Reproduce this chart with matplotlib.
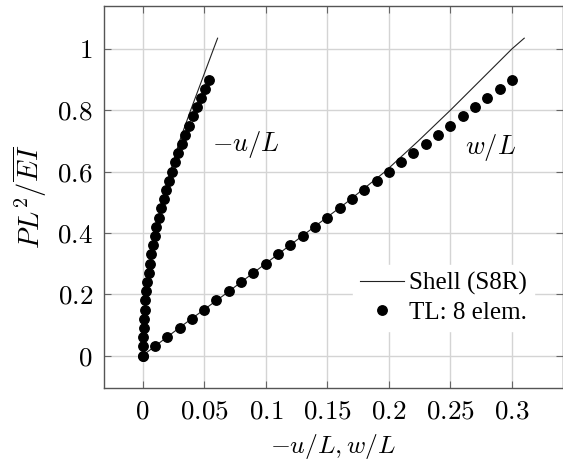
import numpy as np
import matplotlib
matplotlib.use("Agg")
from matplotlib import pyplot as plt

plt.rcParams["mathtext.fontset"] = "cm"
plt.rcParams["font.family"] = ["Liberation Serif", "DejaVu Serif"]

# TL: 8 elem. (pontos)
carga_tl = [0.0, 0.03, 0.06, 0.09, 0.12, 0.15, 0.18, 0.21, 0.24, 0.27, 0.30,
            0.33, 0.36, 0.39, 0.42, 0.45, 0.48, 0.51, 0.54, 0.57, 0.60,
            0.63, 0.66, 0.69, 0.72, 0.75, 0.78, 0.81, 0.84, 0.87, 0.90]
u_tl = [0.0, 0.0001, 0.0004, 0.0008, 0.0012, 0.0017, 0.0023, 0.0030, 0.0038,
        0.0049, 0.0059, 0.0070, 0.0082, 0.0097, 0.0112, 0.0131, 0.0147,
        0.0170, 0.0192, 0.0213, 0.0238, 0.0265, 0.0289, 0.0317, 0.0346,
        0.0373, 0.0406, 0.0438, 0.0471, 0.0506, 0.0540]
w_tl = [0.0, 0.01, 0.02, 0.03, 0.04, 0.05, 0.06, 0.07, 0.08, 0.09, 0.10,
        0.11, 0.12, 0.13, 0.14, 0.15, 0.16, 0.17, 0.18, 0.19, 0.20,
        0.21, 0.22, 0.23, 0.24, 0.25, 0.26, 0.27, 0.28, 0.29, 0.30]

# Shell (S8R) (linha)
carga_shell = [0.0, 0.1, 0.2, 0.3, 0.4, 0.5, 0.6, 0.7, 0.8, 0.9, 1.0, 1.035]
u_shell = [0.0, 0.0006, 0.0025, 0.0058, 0.0103, 0.0160, 0.0225, 0.0300,
           0.0390, 0.0483, 0.0576, 0.0609]
w_shell = [0.0, 0.033, 0.067, 0.100, 0.133, 0.166, 0.197, 0.224, 0.250,
           0.275, 0.300, 0.310]

xticks = [0, 0.05, 0.1, 0.15, 0.2, 0.25, 0.3]
xtick_labels = ["0", "0.05", "0.1", "0.15", "0.2", "0.25", "0.3"]
yticks = [0, 0.2, 0.4, 0.6, 0.8, 1.0]
ytick_labels = ["0", "0.2", "0.4", "0.6", "0.8", "1"]

fig = plt.figure(figsize=(5.63, 4.63), dpi=100)
ax = fig.add_axes([0.1847, 0.1613, 0.8153, 0.8264])

ax.plot(u_shell, carga_shell, color="#222222", lw=0.8, label="Shell (S8R)")
ax.plot(w_shell, carga_shell, color="#222222", lw=0.8)
ax.plot(u_tl, carga_tl, "o", color="black", ms=6.8, label="TL: 8 elem.")
ax.plot(w_tl, carga_tl, "o", color="black", ms=6.8)

ax.text(0.0835, 0.687, "$-u/L$", fontsize=19, ha="center", va="center")
ax.text(0.2825, 0.68, "$w/L$", fontsize=19, ha="center", va="center")

ax.set_xlim(-0.0314, 0.3415)
ax.set_ylim(-0.107, 1.141)
ax.set_xticks(xticks, labels=["$" + s + "$" for s in xtick_labels])
ax.set_yticks(yticks, labels=["$" + s + "$" for s in ytick_labels])
ax.tick_params(direction="in", length=5, color="#666666", top=True, right=True,
               labelsize=19.5)
ax.tick_params(axis="y", pad=8)
ax.tick_params(axis="x", pad=8)
ax.grid(color="#d4d4d4", lw=1.0)
ax.set_axisbelow(True)
for s in ax.spines.values():
    s.set_color("#555555")
    s.set_linewidth(1.0)

ax.set_xlabel("$-u/L, w/L$", fontsize=18.5)
ax.xaxis.set_label_coords(0.5, -0.114)
ax.set_ylabel(r"$PL^2/\overline{EI}$", fontsize=20.5)
ax.yaxis.set_label_coords(-0.12, 0.5)

leg = ax.legend(loc="center right", bbox_to_anchor=(0.965, 0.236), fontsize=18,
                frameon=True, fancybox=False, edgecolor="white", framealpha=1.0,
                handlelength=1.75, handletextpad=0.2, labelspacing=0.25,
                borderpad=0.3)

plt.savefig("out.png", dpi=100)
plt.close()
